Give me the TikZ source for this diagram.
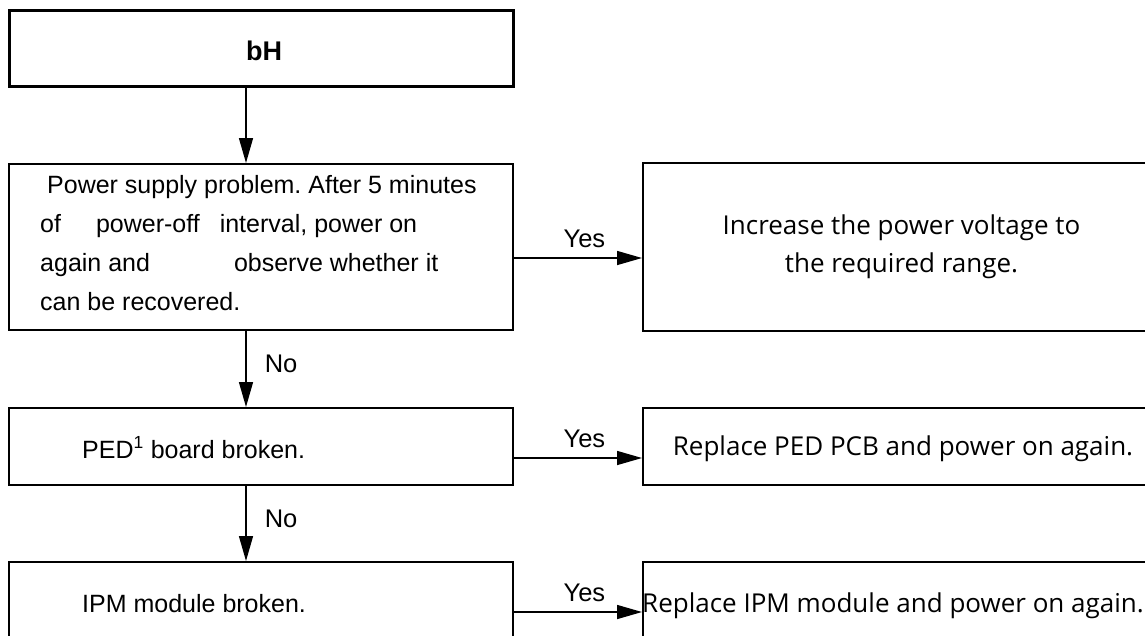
\documentclass[tikz,border=0pt]{standalone}
\usepackage{fontspec}
\setmainfont{Liberation Sans}
\newfontfamily\rfont{Open Sans}
\usetikzlibrary{arrows.meta}
\begin{document}
\frenchspacing
\begin{tikzpicture}[x=1pt,y=-1pt,
  box/.style={draw, line width=2pt, inner sep=0pt},
  topbox/.style={draw, line width=3pt, inner sep=0pt},
  ltext/.style={inner sep=0pt, font=\fontsize{25}{39}\selectfont},
  rtext/.style={font=\rfont\fontsize{26}{38}\selectfont, align=center},
  lab/.style={inner sep=0pt, font=\fontsize{25.5}{30}\selectfont},
  arr/.style={line width=1.5pt, -{Triangle[length=25pt, width=14pt]}}]
\useasboundingbox (0,0) rectangle (1145,635);
\clip (0,0) rectangle (1145,635);
% boxes
\node[topbox, minimum width=504pt, minimum height=76pt] (top) at (261,48) {};
\node[box, minimum width=504pt, minimum height=166pt] (q1) at (261,247) {};
\node[box, minimum width=517pt, minimum height=168pt, rtext] (r1) at (901.5,247) {Increase the power voltage to\\the required range.};
\node[box, minimum width=517pt, minimum height=77pt] (r2) at (901.5,446.5) {};
\node[box, minimum width=504pt, minimum height=77pt] (q2) at (261,446.5) {};
\node[box, minimum width=504pt, minimum height=80pt] (q3) at (261,602) {};
\node[box, minimum width=517pt, minimum height=80pt] (r3) at (901.5,602) {};
% texts
\node[inner sep=0pt, anchor=base, font=\bfseries\fontsize{27}{30}\selectfont] (toptext) at (264,60) {bH};
\node[ltext, anchor=base west] (q1text) at (40,193) {\begin{tabular}[t]{@{}l@{}}\hspace{7pt}Power supply problem. After 5 minutes\\of\hspace{35pt}power-off\hspace{20pt}interval, power on\\again and\hspace{84pt}observe whether it\\can be recovered.\end{tabular}};
\node[ltext, anchor=base west] (q2text) at (82,458) {PED\textsuperscript{1} board broken.};
\node[ltext, anchor=base west] (q3text) at (82,612) {IPM module broken.};
\node[rtext, anchor=base, inner sep=0pt] (r2text) at (903,455) {Replace PED PCB and power on again.};
\node[rtext, anchor=base, inner sep=0pt] (r3text) at (893,612) {Replace IPM module and power on again.};
% connectors
\draw[arr] ([xshift=-15pt]top.south) -- ([xshift=-15pt]q1.north);
\draw[arr] ([xshift=-15pt]q1.south) -- node[lab, right=18pt, yshift=5pt] (no1) {No} ([xshift=-15pt]q2.north);
\draw[arr] ([xshift=-15pt]q2.south) -- node[lab, right=18pt, yshift=5pt] (no2) {No} ([xshift=-15pt]q3.north);
\path ([yshift=-11pt]q1.east) coordinate (s1);
\path ([yshift=-11.5pt]q2.east) coordinate (s2);
\path ([yshift=-10pt]q3.east) coordinate (s3);
\draw[arr] (s1) -- node[lab, above=10pt, pos=0.55] (y1) {Yes} (s1 -| r1.west);
\draw[arr] (s2) -- node[lab, above=10pt, pos=0.55] (y2) {Yes} (s2 -| r2.west);
\draw[arr] (s3) -- node[lab, above=10pt, pos=0.55] (y3) {Yes} (s3 -| r3.west);
\end{tikzpicture}
\end{document}
